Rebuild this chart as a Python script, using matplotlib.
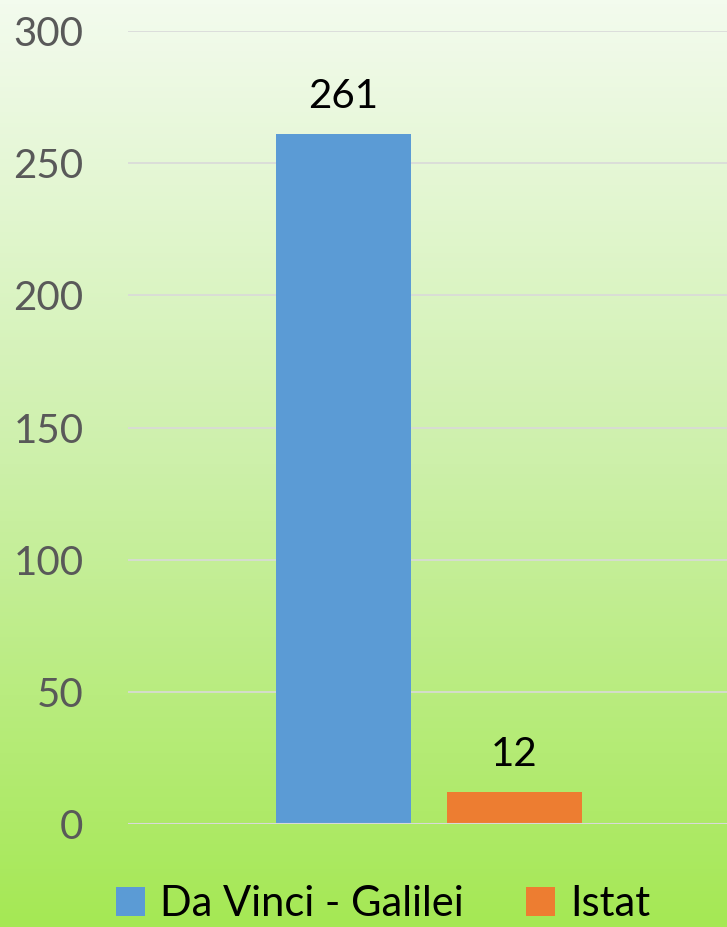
import numpy as np
import matplotlib.pyplot as plt
from matplotlib.colors import LinearSegmentedColormap
from matplotlib.patches import Patch

series = ["Da Vinci - Galilei", "Istat"]
values = [261, 12]
colors = ["#5B9BD5", "#ED7D31"]
yticks = [0, 50, 100, 150, 200, 250, 300]

plt.rcParams['font.family'] = ['Lato', 'DejaVu Sans']

fig = plt.figure(figsize=(7.27, 9.27), dpi=100)

# gradient background over the whole figure
bg = fig.add_axes([0, 0, 1, 1], zorder=-10)
cmap = LinearSegmentedColormap.from_list("bg", ["#A5E854", "#CDF0AA", "#F3FBEE"])
bg.imshow(np.linspace(0, 1, 256).reshape(-1, 1), aspect="auto", cmap=cmap,
          origin="lower", extent=[0, 1, 0, 1])
bg.axis("off")

ax = fig.add_axes([0.176, 0.111, 0.828, 0.8555])
ax.patch.set_alpha(0)

width = 0.224
offsets = [-0.142, 0.142]
for name, v, c, off in zip(series, values, colors, offsets):
    b = ax.bar(off, v, width=width, color=c, zorder=3)
    ax.bar_label(b, padding=14, fontsize=29, color="black")

ax.set_xlim(-0.5, 0.5)
ax.set_ylim(0, 300)
ax.set_yticks(yticks)
ax.set_xticks([])
ax.tick_params(axis="y", length=0, pad=32, labelsize=29, labelcolor="#595959")
ax.grid(axis="y", color="#D9D9D9", linewidth=1.2, zorder=0)
for s in ax.spines.values():
    s.set_visible(False)
ax.axhline(0, color="#D9D9D9", linewidth=1.5, zorder=4)

handles = [Patch(facecolor=c, label=n) for n, c in zip(series, colors)]
fig.legend(handles=handles, loc="lower center", bbox_to_anchor=(0.527, -0.036), ncol=2,
           frameon=False, fontsize=30, handlelength=0.7, handleheight=0.7,
           handletextpad=0.35, columnspacing=1.5)

fig.savefig("out.png", dpi=100)
